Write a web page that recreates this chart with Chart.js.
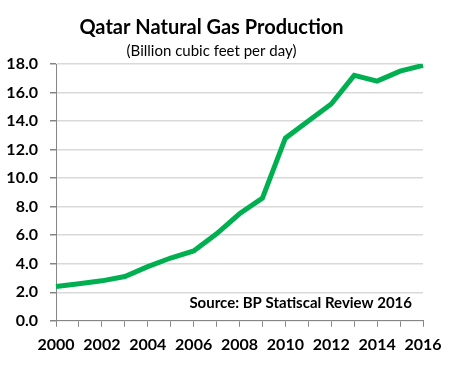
<!DOCTYPE html>
<html>
<head>
<meta charset="utf-8">
<script src="https://cdn.jsdelivr.net/npm/chart.js@4"></script>
<style>
  html, body { margin: 0; padding: 0; background: #fff; }
  #wrap { width: 457px; height: 370px; }
</style>
</head>
<body>
<div id="wrap"><canvas id="myChart" width="457" height="370"></canvas></div>
<script>
const years = ['2000','2001','2002','2003','2004','2005','2006','2007','2008','2009','2010','2011','2012','2013','2014','2015','2016'];
const production = [2.4, 2.6, 2.8, 3.1, 3.8, 4.4, 4.9, 6.1, 7.5, 8.6, 12.8, 14.0, 15.2, 17.2, 16.8, 17.5, 17.9];
const yTicks = [0, 2, 4, 6, 8, 10, 12, 14, 16, 18];
const sourceNote = 'Source: BP Statiscal Review 2016';

const FONT = 'Lato, "Open Sans", sans-serif';

// draws the source note in the lower right corner of the plot
const sourcePlugin = {
  id: 'sourceNote',
  afterDraw(chart) {
    const { ctx, chartArea } = chart;
    ctx.save();
    ctx.font = 'bold 15px ' + FONT;
    ctx.fillStyle = '#000';
    ctx.textAlign = 'right';
    ctx.textBaseline = 'alphabetic';
    ctx.fillText(sourceNote, chartArea.right - 11, chartArea.bottom - 13);
    ctx.restore();
  }
};

const ctx = document.getElementById('myChart').getContext('2d');

new Chart(ctx, {
  type: 'line',
  data: {
    labels: years,
    datasets: [{
      label: 'Production',
      data: production,
      borderColor: '#00B050',
      borderWidth: 5,
      pointRadius: 0,
      tension: 0,
      fill: false
    }]
  },
  options: {
    responsive: false,
    animation: false,
    layout: { padding: { top: 6, right: 34, bottom: 8, left: 0 } },
    plugins: {
      legend: { display: false },
      tooltip: { enabled: false },
      title: {
        display: true,
        text: 'Qatar Natural Gas Production',
        color: 'black',
        font: { family: FONT, size: 20, weight: 'bold' },
        padding: { top: 10, bottom: 2 }
      },
      subtitle: {
        display: true,
        text: '(Billion cubic feet per day)',
        color: 'black',
        font: { family: FONT, size: 15, weight: 'normal' },
        padding: { top: 0, bottom: 4 }
      }
    },
    scales: {
      x: {
        type: 'category',
        offset: false,
        grid: {
          drawOnChartArea: false,
          drawTicks: true,
          tickLength: 6,
          color: '#868686'
        },
        border: { color: '#868686', width: 1 },
        ticks: {
          autoSkip: false,
          maxRotation: 0,
          padding: 8,
          color: 'black',
          font: { family: FONT, size: 16, weight: 'bold' },
          callback: function(val, i) { return i % 2 === 0 ? years[i] : ''; }
        }
      },
      y: {
        min: 0,
        max: 18,
        afterBuildTicks: function(scale) { scale.ticks = yTicks.map(v => ({ value: v })); },
        afterFit: function(scale) { scale.width = 56; },
        grid: {
          color: '#d9d9d9',
          lineWidth: 1.5,
          drawTicks: true,
          tickLength: 6,
          tickColor: '#868686'
        },
        border: { color: '#868686', width: 1 },
        ticks: {
          padding: 12,
          color: 'black',
          font: { family: FONT, size: 16, weight: 'bold' },
          callback: v => v.toFixed(1)
        }
      }
    }
  },
  plugins: [sourcePlugin]
});
</script>
</body>
</html>
